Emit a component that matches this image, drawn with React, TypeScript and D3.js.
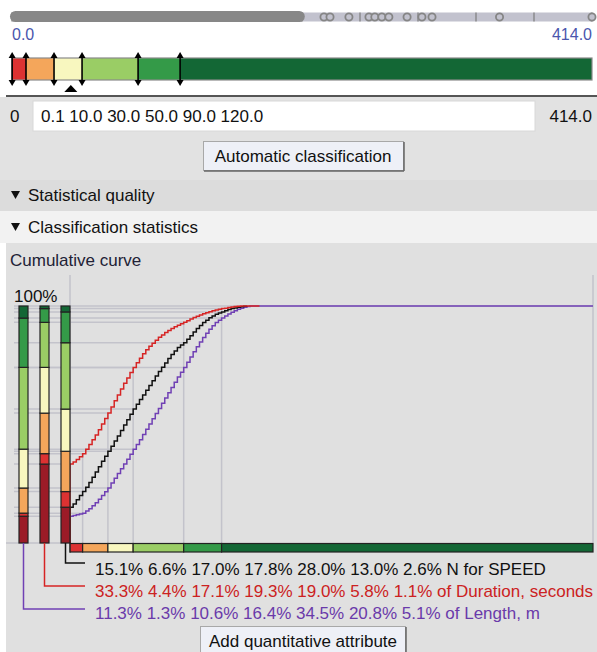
import React from 'react';
import * as d3 from 'd3';

// ---------- data ----------
const minValue = 0;
const maxValue = 414;
const breaks = [0.1, 10, 30, 50, 90, 120];
const classColors = ['#9b1b27', '#dc3232', '#f4a65b', '#f8f7bf', '#9acd65', '#349a48', '#136735'];
const breakText = '0.1 10.0 30.0 50.0 90.0 120.0';

const speedShares = [15.1, 6.6, 17.0, 17.8, 28.0, 13.0, 2.6];
const durationShares = [33.3, 4.4, 17.1, 19.3, 19.0, 5.8, 1.1];
const lengthShares = [11.3, 1.3, 10.6, 16.4, 34.5, 20.8, 5.1];
const seriesLabels = ['N for SPEED', 'of Duration, seconds', 'of Length, m'];
const seriesColors = ['#111111', '#cc2222', '#6a3aaa'];
const curveColors = ['#111111', '#d62424', '#7040b4'];

// cumulative curve readings (speed value -> cumulative %)
const speedSamples = [0, 2.5, 5, 7.5, 10, 12.5, 15, 17.5, 20, 22.5, 25, 27.5, 30, 32.5, 35, 37.5, 40, 42.5, 45, 47.5, 50, 52.5, 55, 57.5, 60, 62.5, 65, 67.5, 70, 72.5, 75, 77.5, 80, 82.5, 85, 87.5, 90, 92.5, 95, 97.5, 100, 102.5, 105, 107.5, 110, 112.5, 115, 117.5, 120, 122.5, 125, 127.5, 130, 132.5, 135, 137.5, 140, 142.5, 145, 147.5, 150];
const speedCum = [15.1, 16.5, 18.2, 20, 21.7, 23.5, 25.5, 27.7, 30, 32.2, 34.5, 36.6, 38.7, 40.8, 43, 45.2, 47.5, 49.8, 52, 54.3, 56.5, 58.5, 60.5, 62.5, 64.5, 66.5, 68.5, 70.5, 72.4, 74.2, 76, 77.8, 79.5, 81, 82.5, 83.5, 84.5, 86, 87.5, 89, 90.5, 91.8, 93, 94, 95, 95.8, 96.5, 97, 97.5, 98, 98.5, 98.9, 99.2, 99.5, 99.7, 99.9, 100];
const durationCum = [33.3, 34.2, 35.2, 36.4, 37.7, 39.6, 41.6, 43.6, 45.6, 47.8, 50.2, 52.5, 54.8, 57.4, 60, 62.5, 65, 67.4, 69.6, 71.9, 74.1, 76.1, 78, 79.8, 81.5, 83, 84.3, 85.6, 86.8, 87.8, 88.8, 89.7, 90.5, 91.2, 91.9, 92.5, 93.1, 93.8, 94.5, 95.1, 95.7, 96.2, 96.7, 97.2, 97.6, 98, 98.3, 98.6, 98.9, 99.1, 99.4, 99.6, 99.8, 99.9, 100, 100, 100, 100, 100, 100, 100];
const lengthCum = [11.3, 11.6, 11.9, 12.2, 12.6, 13.5, 14.5, 15.7, 17, 18.5, 20, 21.6, 23.2, 25.3, 27.3, 29.3, 31.3, 33.3, 35.3, 37.4, 39.6, 41.6, 43.6, 45.8, 48, 50.2, 52.4, 54.6, 56.8, 59, 61.2, 63.4, 65.6, 67.8, 70, 72, 74.1, 76.3, 78.5, 80.7, 82.8, 84.8, 86.7, 88.5, 90.2, 91.7, 93, 94, 94.9, 95.8, 96.6, 97.4, 98, 98.6, 99.1, 99.5, 99.8, 100];

// dot strip on top
const denseEnd = 209;
const stripDots = [222.7, 227, 240.5, 254.8, 259, 264, 269, 282, 292.6, 299.8, 348, 414];
const stripTicks = [0, 41.4, 82.8, 124.2, 165.6, 207, 248.4, 289.8, 331.2, 372.6, 414];
const markerValue = 42;

const FONT = '"Liberation Sans", Arial, sans-serif';

function cumulative(shares: number[]): number[] {
  const out: number[] = [];
  let s = 0;
  for (const v of shares) { s += v; out.push(Math.min(100, s)); }
  return out;
}

export default function App() {
  const W = 597, H = 652;
  const xs = d3.scaleLinear().domain([minValue, maxValue]).range([12, 592]);
  const xc = d3.scaleLinear().domain([minValue, maxValue]).range([70, 593]);
  const yc = d3.scaleLinear().domain([0, 100]).range([543, 306]);

  const bounds = [minValue, ...breaks, maxValue];
  const classes = classColors.map((c, i) => ({ lo: bounds[i], hi: bounds[i + 1], color: c }));

  const sharesBySeries = [speedShares, durationShares, lengthShares];
  const cumBySeries = sharesBySeries.map(cumulative);
  const curvesBySeries = [speedCum, durationCum, lengthCum];

  // bars: left to right Length, Duration, SPEED
  const barOrder = [2, 1, 0];
  const barX = (k: number) => 19 + 21 * k;
  const barW = 9;

  const line = d3.line<[number, number]>()
    .x(d => xc(d[0]))
    .y(d => yc(d[1]))
    .curve(d3.curveStepAfter);

  const curvePath = (si: number, extend: boolean) => {
    const vals = curvesBySeries[si];
    const pts: [number, number][] = [[0, 0]];
    vals.forEach((p, i) => pts.push([speedSamples[i], p]));
    if (extend) pts.push([maxValue, 100]);
    return line(pts) || '';
  };

  const gridColor = '#c3c3cb';

  const hLines: { y: number; x2: number }[] = [];
  cumBySeries.forEach(cum => {
    breaks.forEach((b, i) => hLines.push({ y: yc(cum[i]), x2: xc(b) }));
  });
  const vLines = breaks.map((b, i) => ({ x: xc(b), top: yc(d3.max(cumBySeries, c => c[i]) as number) }));

  const rowBaselines = [575, 597, 619];
  const leaderY = [563, 586, 609];

  const tri = (x: number, y: number, w: number, h: number, up: boolean) =>
    up ? `M${x - w / 2},${y + h}L${x},${y}L${x + w / 2},${y + h}Z` : `M${x - w / 2},${y}L${x},${y + h}L${x + w / 2},${y}Z`;

  return (
    <div style={{ position: 'absolute', left: 0, top: 0 }}>
      <svg width={W} height={H} style={{ display: 'block', fontFamily: FONT }}>
        <rect x={0} y={0} width={W} height={H} fill="#ffffff" />

        {/* dot strip */}
        <rect x={xs(minValue)} y={12.5} width={xs(maxValue) - xs(minValue)} height={9} fill="#c2c2ce" />
        {stripTicks.map((t, i) => (
          <line key={'st' + i} x1={xs(t)} x2={xs(t)} y1={12.5} y2={21.5} stroke="#7c7c7c" strokeWidth={1.2} />
        ))}
        <rect x={xs(minValue) - 2} y={11} width={xs(denseEnd) - xs(minValue) + 2} height={11} rx={5.5} fill="#878787" />
        {stripDots.map((v, i) => (
          <circle key={'sd' + i} cx={xs(v)} cy={17} r={3.6} fill="#c2c2ce" stroke="#858585" strokeWidth={1.8} />
        ))}
        <text x={12} y={40} fontSize={16} fill="#4a56ad">{minValue.toFixed(1)}</text>
        <text x={592} y={40} fontSize={16} fill="#4a56ad" textAnchor="end">{maxValue.toFixed(1)}</text>

        {/* class bar */}
        {classes.map((c, i) => (
          <rect key={'cb' + i} x={xs(c.lo)} y={58} width={xs(c.hi) - xs(c.lo)} height={22} fill={c.color} />
        ))}
        <rect x={xs(minValue)} y={58} width={xs(maxValue) - xs(minValue)} height={22} fill="none" stroke="#8a8a8a" strokeWidth={1.2} />
        {breaks.map((b, i) => (
          <g key={'ar' + i}>
            <line x1={xs(b)} x2={xs(b)} y1={56} y2={82} stroke="#000" strokeWidth={1.6} />
            <path d={tri(xs(b), 52, 7, 6, true)} fill="#000" />
            <path d={tri(xs(b), 80, 7, 6, false)} fill="#000" />
          </g>
        ))}
        <path d={tri(xs(markerValue), 85, 13, 7, true)} fill="#000" />

        {/* separator and controls */}
        <rect x={0} y={97} width={W} height={83} fill="#e2e2e2" />
        <line x1={6} x2={W} y1={96} y2={96} stroke="#555" strokeWidth={2} />
        <text x={10} y={122} fontSize={17} fill="#111">{minValue}</text>
        <rect x={33} y={101} width={502} height={30} fill="#ffffff" stroke="#d8d8d8" />
        <text x={41} y={122} fontSize={17} fill="#111">{breakText}</text>
        <text x={592} y={122} fontSize={17} fill="#111" textAnchor="end">{maxValue.toFixed(1)}</text>

        <rect x={203.5} y={141.5} width={200} height={29} fill="#eef0f7" stroke="#a8a8a8" />
        <line x1={404} x2={404} y1={142} y2={171} stroke="#666" strokeWidth={1.5} />
        <line x1={204} x2={404} y1={171} y2={171} stroke="#666" strokeWidth={1.5} />
        <text x={303} y={162} fontSize={17} fill="#111" textAnchor="middle">Automatic classification</text>

        <rect x={0} y={180} width={W} height={31} fill="#dcdcdc" />
        <path d="M11,191L20,191L15.5,199Z" fill="#111" />
        <text x={28} y={201} fontSize={17} fill="#111">Statistical quality</text>
        <rect x={0} y={211} width={W} height={32} fill="#f2f2f2" />
        <path d="M11,223L20,223L15.5,231Z" fill="#111" />
        <text x={28} y={233} fontSize={17} fill="#111">Classification statistics</text>

        {/* chart panel */}
        <rect x={6} y={243} width={W - 6} height={H - 243} fill="#e0e0e0" />
        <text x={10} y={266} fontSize={17} fill="#222236">Cumulative curve</text>
        <text x={14} y={302} fontSize={17} fill="#111">100%</text>

        {/* grid */}
        {hLines.map((h, i) => (
          <line key={'hl' + i} x1={14} x2={h.x2} y1={h.y} y2={h.y} stroke={gridColor} strokeWidth={1.5} />
        ))}
        <line x1={14} x2={xc(maxValue)} y1={yc(100)} y2={yc(100)} stroke={gridColor} strokeWidth={1.5} />
        <line x1={6} x2={xc(minValue)} y1={yc(0)} y2={yc(0)} stroke={gridColor} strokeWidth={1.5} />
        {vLines.map((v, i) => (
          <line key={'vl' + i} x1={v.x} x2={v.x} y1={v.top} y2={yc(0)} stroke={gridColor} strokeWidth={1.5} />
        ))}
        <line x1={xc(minValue)} x2={xc(minValue)} y1={275} y2={yc(0)} stroke={gridColor} strokeWidth={1.5} />
        <line x1={xc(maxValue)} x2={xc(maxValue)} y1={275} y2={yc(0)} stroke={gridColor} strokeWidth={1.5} />

        {/* curves */}
        <path d={curvePath(2, true)} fill="none" stroke={curveColors[2]} strokeWidth={1.5} />
        <path d={curvePath(0, false)} fill="none" stroke={curveColors[0]} strokeWidth={1.5} />
        <path d={curvePath(1, false)} fill="none" stroke={curveColors[1]} strokeWidth={1.5} />

        {/* stacked bars */}
        {barOrder.map((si, k) => {
          const cum = cumBySeries[si];
          return (
            <g key={'bar' + k}>
              {classColors.map((c, i) => {
                const lo = i === 0 ? 0 : cum[i - 1];
                const hi = i === classColors.length - 1 ? 100 : cum[i];
                return (
                  <rect key={i} x={barX(k)} y={yc(hi)} width={barW} height={yc(lo) - yc(hi)}
                    fill={c} stroke="#222" strokeWidth={1.2} />
                );
              })}
            </g>
          );
        })}

        {/* horizontal class bar in chart */}
        {classes.map((c, i) => (
          <rect key={'hc' + i} x={xc(c.lo)} y={543.5} width={xc(c.hi) - xc(c.lo)} height={8.5}
            fill={c.color} stroke="#222" strokeWidth={1.2} />
        ))}

        {/* leaders and labels */}
        {[0, 1, 2].map(si => {
          const k = barOrder.indexOf(si);
          const lx = barX(k) + barW / 2;
          return (
            <path key={'ld' + si} d={`M${lx},${yc(0)}L${lx},${leaderY[si]}L85,${leaderY[si]}`}
              fill="none" stroke={curveColors[si]} strokeWidth={1.5} />
          );
        })}
        {sharesBySeries.map((sh, si) => (
          <text key={'lb' + si} x={95} y={rowBaselines[si]} fontSize={17} fill={seriesColors[si]}>
            {sh.map(v => v.toFixed(1) + '%').join(' ') + ' ' + seriesLabels[si]}
          </text>
        ))}

        <rect x={200.5} y={626.5} width={205} height={30} fill="#eef0f7" stroke="#a8a8a8" />
        <line x1={406} x2={406} y1={627} y2={652} stroke="#666" strokeWidth={1.5} />
        <text x={303} y={647} fontSize={17} fill="#111" textAnchor="middle">Add quantitative attribute</text>
      </svg>
    </div>
  );
}
